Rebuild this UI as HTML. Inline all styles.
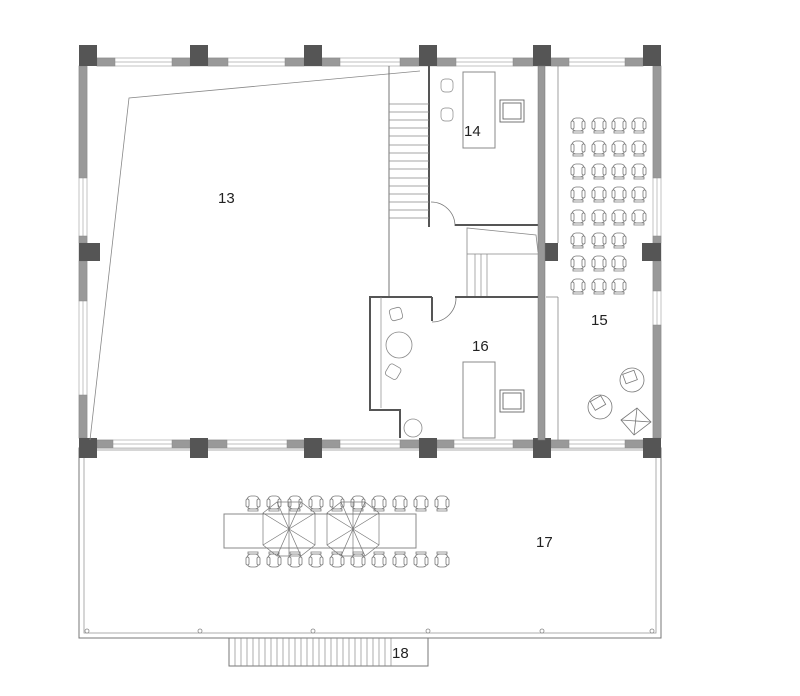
<!DOCTYPE html>
<html><head><meta charset="utf-8"><style>
html,body{margin:0;padding:0;background:#fff;}
svg{display:block;}
text{font-family:"Liberation Sans",sans-serif;font-size:15px;fill:#222;}
</style></head><body>
<svg width="800" height="696" viewBox="0 0 800 696" xmlns="http://www.w3.org/2000/svg">
<defs>
<g id="ch" fill="#fff" stroke="#777" stroke-width="0.8">
<rect x="-6" y="-7" width="12" height="13" rx="4"/>
<rect x="-7" y="-4" width="3" height="8" rx="1.5"/>
<rect x="4" y="-4" width="3" height="8" rx="1.5"/>
<path d="M-5 6 h10 v2 h-10z"/>
</g>
<g id="chd" fill="#fff" stroke="#777" stroke-width="0.8">
<rect x="-6" y="-6" width="12" height="13" rx="4"/>
<rect x="-7" y="-3" width="3" height="8" rx="1.5"/>
<rect x="4" y="-3" width="3" height="8" rx="1.5"/>
<path d="M-5 -8 h10 v2 h-10z"/>
</g>
<g id="arm" fill="#fff" stroke="#666" stroke-width="0.9">
<rect x="0" y="0" width="24" height="22"/>
<rect x="3" y="3" width="18" height="16"/>
</g>
<g id="umb" fill="none" stroke="#777" stroke-width="0.7">
<polygon points="-26,-16 -12,-27 12,-27 26,-16 26,16 12,27 -12,27 -26,16"/>
<line x1="-26" y1="-16" x2="26" y2="16"/><line x1="26" y1="-16" x2="-26" y2="16"/>
<line x1="-12" y1="-27" x2="12" y2="27"/><line x1="12" y1="-27" x2="-12" y2="27"/>
<line x1="0" y1="-27" x2="0" y2="27"/>
</g>
</defs>

<!-- terrace -->
<rect x="79" y="448" width="582" height="190" fill="none" stroke="#777" stroke-width="1"/>
<rect x="84" y="450" width="572" height="183" fill="none" stroke="#999" stroke-width="0.8"/>
<g fill="#fff" stroke="#888" stroke-width="0.8">
<circle cx="87" cy="631" r="2"/><circle cx="200" cy="631" r="2"/><circle cx="313" cy="631" r="2"/><circle cx="428" cy="631" r="2"/><circle cx="542" cy="631" r="2"/><circle cx="652" cy="631" r="2"/>
</g>
<!-- stairs 18 -->
<rect x="229" y="638" width="199" height="28" fill="none" stroke="#777"/>
<g stroke="#888" stroke-width="0.7">
<line x1="235" y1="638" x2="235" y2="666"/><line x1="241" y1="638" x2="241" y2="666"/><line x1="247" y1="638" x2="247" y2="666"/><line x1="253" y1="638" x2="253" y2="666"/><line x1="259" y1="638" x2="259" y2="666"/><line x1="265" y1="638" x2="265" y2="666"/><line x1="271" y1="638" x2="271" y2="666"/><line x1="277" y1="638" x2="277" y2="666"/><line x1="283" y1="638" x2="283" y2="666"/><line x1="289" y1="638" x2="289" y2="666"/><line x1="295" y1="638" x2="295" y2="666"/><line x1="301" y1="638" x2="301" y2="666"/><line x1="307" y1="638" x2="307" y2="666"/><line x1="313" y1="638" x2="313" y2="666"/><line x1="319" y1="638" x2="319" y2="666"/><line x1="325" y1="638" x2="325" y2="666"/><line x1="331" y1="638" x2="331" y2="666"/><line x1="337" y1="638" x2="337" y2="666"/><line x1="343" y1="638" x2="343" y2="666"/><line x1="349" y1="638" x2="349" y2="666"/><line x1="355" y1="638" x2="355" y2="666"/><line x1="361" y1="638" x2="361" y2="666"/><line x1="367" y1="638" x2="367" y2="666"/><line x1="373" y1="638" x2="373" y2="666"/><line x1="379" y1="638" x2="379" y2="666"/><line x1="385" y1="638" x2="385" y2="666"/><line x1="391" y1="638" x2="391" y2="666"/>
</g>
<text x="392" y="658">18</text>

<!-- table 17 -->
<rect x="224" y="514" width="192" height="34" fill="none" stroke="#888"/>
<g>
<use href="#ch" x="253" y="503"/><use href="#ch" x="274" y="503"/><use href="#ch" x="295" y="503"/><use href="#ch" x="316" y="503"/><use href="#ch" x="337" y="503"/><use href="#ch" x="358" y="503"/><use href="#ch" x="379" y="503"/><use href="#ch" x="400" y="503"/><use href="#ch" x="421" y="503"/><use href="#ch" x="442" y="503"/>
<use href="#chd" x="253" y="560"/><use href="#chd" x="274" y="560"/><use href="#chd" x="295" y="560"/><use href="#chd" x="316" y="560"/><use href="#chd" x="337" y="560"/><use href="#chd" x="358" y="560"/><use href="#chd" x="379" y="560"/><use href="#chd" x="400" y="560"/><use href="#chd" x="421" y="560"/><use href="#chd" x="442" y="560"/>
</g>
<use href="#umb" x="289" y="529"/><use href="#umb" x="353" y="529"/>
<text x="536" y="547">17</text>

<!-- walls: top -->
<g fill="#fff" stroke="#aaa" stroke-width="0.7">
<rect x="97" y="58" width="546" height="8"/>
<line x1="97" y1="62" x2="643" y2="62"/>
<rect x="79" y="66" width="8" height="372"/>
<line x1="83" y1="66" x2="83" y2="438"/>
<rect x="653" y="66" width="8" height="372"/>
<line x1="657" y1="66" x2="657" y2="438"/>
<rect x="97" y="440" width="546" height="8"/>
<line x1="97" y1="444" x2="643" y2="444"/>
</g>
<g fill="#999" stroke="#888" stroke-width="0.5">
<rect x="97" y="58" width="18" height="8"/><rect x="172" y="58" width="18" height="8"/><rect x="208" y="58" width="20" height="8"/><rect x="285" y="58" width="19" height="8"/><rect x="322" y="58" width="18" height="8"/><rect x="400" y="58" width="19" height="8"/><rect x="437" y="58" width="19" height="8"/><rect x="513" y="58" width="20" height="8"/><rect x="551" y="58" width="18" height="8"/><rect x="625" y="58" width="18" height="8"/>
<rect x="97" y="440" width="16" height="8"/><rect x="172" y="440" width="18" height="8"/><rect x="208" y="440" width="19" height="8"/><rect x="287" y="440" width="17" height="8"/><rect x="322" y="440" width="18" height="8"/><rect x="400" y="440" width="19" height="8"/><rect x="437" y="440" width="17" height="8"/><rect x="513" y="440" width="20" height="8"/><rect x="551" y="440" width="18" height="8"/><rect x="625" y="440" width="18" height="8"/>
<rect x="79" y="66" width="8" height="112"/><rect x="79" y="236" width="8" height="7"/><rect x="79" y="261" width="8" height="40"/><rect x="79" y="395" width="8" height="43"/>
<rect x="653" y="66" width="8" height="112"/><rect x="653" y="236" width="8" height="7"/><rect x="653" y="261" width="8" height="30"/><rect x="653" y="325" width="8" height="113"/>
</g>
<!-- columns -->
<g fill="#555">
<rect x="79" y="45" width="18" height="21"/><rect x="190" y="45" width="18" height="21"/><rect x="304" y="45" width="18" height="21"/><rect x="419" y="45" width="18" height="21"/><rect x="533" y="45" width="18" height="21"/><rect x="643" y="45" width="18" height="21"/>
<rect x="79" y="243" width="21" height="18"/><rect x="538" y="243" width="20" height="18"/><rect x="642" y="243" width="19" height="18"/>
<rect x="79" y="438" width="18" height="20"/><rect x="190" y="438" width="18" height="20"/><rect x="304" y="438" width="18" height="20"/><rect x="419" y="438" width="18" height="20"/><rect x="533" y="438" width="18" height="20"/><rect x="643" y="438" width="18" height="20"/>
</g>

<!-- room 13 lines -->
<polyline points="420,71 129,98 90,440" fill="none" stroke="#888" stroke-width="0.8"/>
<text x="218" y="203">13</text>

<!-- stair 1 -->
<line x1="389" y1="66" x2="389" y2="298" stroke="#666" stroke-width="0.9"/>
<line x1="429" y1="66" x2="429" y2="227" stroke="#555" stroke-width="2"/>
<g stroke="#888" stroke-width="0.7">
<line x1="389" y1="104" x2="429" y2="104"/><line x1="389" y1="112" x2="429" y2="112"/><line x1="389" y1="120" x2="429" y2="120"/><line x1="389" y1="128" x2="429" y2="128"/><line x1="389" y1="136" x2="429" y2="136"/><line x1="389" y1="145" x2="429" y2="145"/><line x1="389" y1="153" x2="429" y2="153"/><line x1="389" y1="161" x2="429" y2="161"/><line x1="389" y1="169" x2="429" y2="169"/><line x1="389" y1="178" x2="429" y2="178"/><line x1="389" y1="186" x2="429" y2="186"/><line x1="389" y1="194" x2="429" y2="194"/><line x1="389" y1="202" x2="429" y2="202"/><line x1="389" y1="210" x2="429" y2="210"/><line x1="389" y1="218" x2="429" y2="218"/>
</g>
<!-- door 14 -->
<path d="M431 202 A24 24 0 0 1 455 226" fill="none" stroke="#777" stroke-width="0.8"/>
<line x1="455" y1="225" x2="538" y2="225" stroke="#555" stroke-width="2"/>
<!-- room 14 wall right -->
<rect x="538" y="66" width="7" height="374" fill="#999" stroke="#777" stroke-width="0.5"/>
<line x1="558" y1="66" x2="558" y2="243" stroke="#888" stroke-width="0.8"/>
<line x1="558" y1="297" x2="558" y2="440" stroke="#888" stroke-width="0.8"/>
<line x1="546" y1="297" x2="558" y2="297" stroke="#888" stroke-width="0.8"/>
<rect x="463" y="72" width="32" height="76" fill="none" stroke="#888"/>
<use href="#arm" x="500" y="100"/>
<g fill="#fff" stroke="#888" stroke-width="0.7">
<rect x="441" y="79" width="12" height="13" rx="4"/><rect x="441" y="108" width="12" height="13" rx="4"/>
</g>
<text x="464" y="136">14</text>
<!-- stair 2 -->
<polyline points="467,298 467,228 536,235 538,252" fill="none" stroke="#888" stroke-width="0.8"/>
<line x1="467" y1="254" x2="538" y2="254" stroke="#888" stroke-width="0.7"/>
<g stroke="#888" stroke-width="0.7">
<line x1="475" y1="254" x2="475" y2="298"/><line x1="481" y1="254" x2="481" y2="298"/><line x1="487" y1="254" x2="487" y2="298"/>
</g>
<!-- room 16 -->
<g stroke="#555" stroke-width="2" fill="none">
<polyline points="432,297 370,297 370,410 400,410 400,438"/>
<line x1="455" y1="297" x2="538" y2="297"/>
<line x1="432" y1="297" x2="432" y2="321"/>
</g>
<line x1="381" y1="297" x2="381" y2="408" stroke="#888" stroke-width="0.7"/>
<path d="M432 322 A24 24 0 0 0 456 298" fill="none" stroke="#777" stroke-width="0.8"/>
<rect x="463" y="362" width="32" height="76" fill="none" stroke="#888"/>
<use href="#arm" x="500" y="390"/>
<g fill="#fff" stroke="#888" stroke-width="0.8">
<circle cx="399" cy="345" r="13"/><circle cx="413" cy="428" r="9"/>
<rect x="390" y="308" width="12" height="12" rx="3" transform="rotate(-15 396 314)"/>
<rect x="387" y="365" width="13" height="13" rx="3" transform="rotate(30 393 371)"/>
</g>
<text x="472" y="351">16</text>

<!-- room 15 chairs -->
<g>
<use href="#ch" x="578" y="125"/><use href="#ch" x="599" y="125"/><use href="#ch" x="619" y="125"/><use href="#ch" x="639" y="125"/>
<use href="#ch" x="578" y="148"/><use href="#ch" x="599" y="148"/><use href="#ch" x="619" y="148"/><use href="#ch" x="639" y="148"/>
<use href="#ch" x="578" y="171"/><use href="#ch" x="599" y="171"/><use href="#ch" x="619" y="171"/><use href="#ch" x="639" y="171"/>
<use href="#ch" x="578" y="194"/><use href="#ch" x="599" y="194"/><use href="#ch" x="619" y="194"/><use href="#ch" x="639" y="194"/>
<use href="#ch" x="578" y="217"/><use href="#ch" x="599" y="217"/><use href="#ch" x="619" y="217"/><use href="#ch" x="639" y="217"/>
<use href="#ch" x="578" y="240"/><use href="#ch" x="599" y="240"/><use href="#ch" x="619" y="240"/>
<use href="#ch" x="578" y="263"/><use href="#ch" x="599" y="263"/><use href="#ch" x="619" y="263"/>
<use href="#ch" x="578" y="286"/><use href="#ch" x="599" y="286"/><use href="#ch" x="619" y="286"/>
</g>
<g fill="#fff" stroke="#777" stroke-width="0.8">
<circle cx="632" cy="380" r="12"/><rect x="624" y="372" width="12" height="10" transform="rotate(-20 630 377)"/>
<circle cx="600" cy="407" r="12"/><rect x="592" y="398" width="12" height="10" transform="rotate(-30 598 403)"/>
<polygon points="621,420 637,408 651,422 634,435" fill="none"/>
<line x1="621" y1="420" x2="651" y2="422"/><line x1="637" y1="408" x2="634" y2="435"/>
</g>
<text x="591" y="325">15</text>
</svg>
</body></html>
